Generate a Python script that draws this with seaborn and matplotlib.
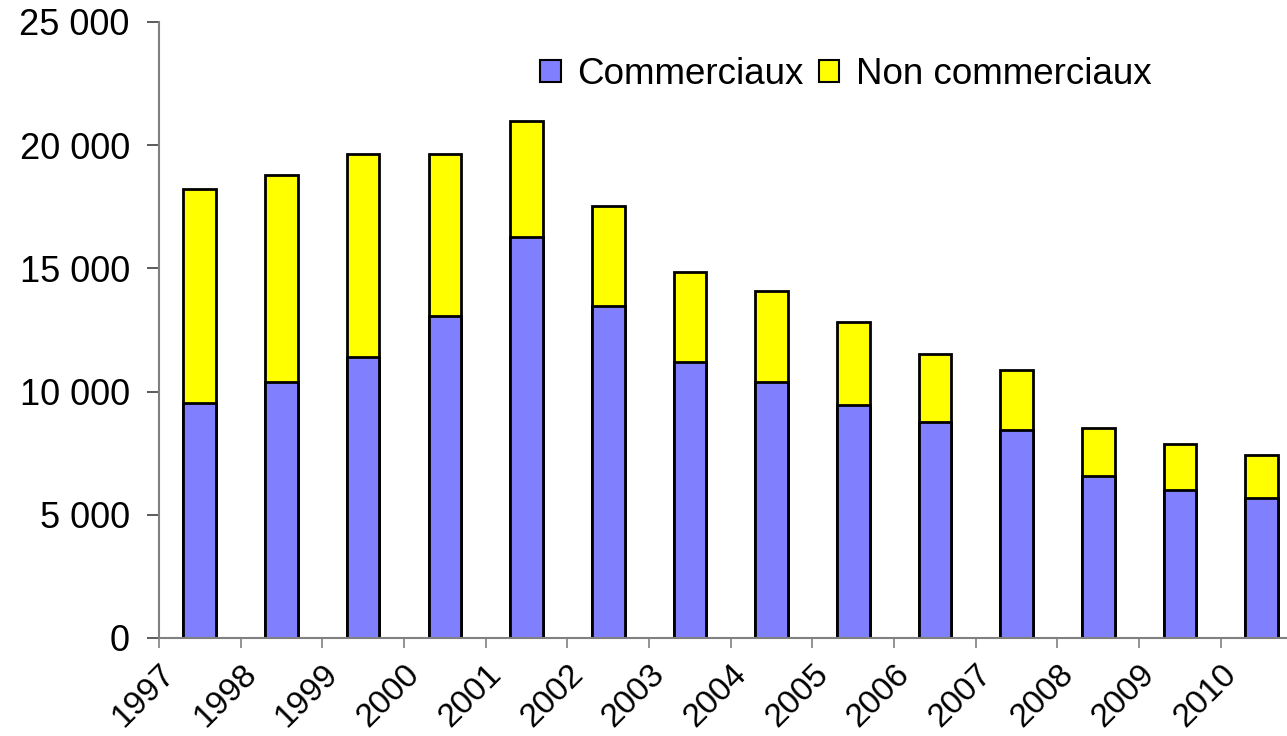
import pandas as pd
import numpy as np
import matplotlib
matplotlib.use("Agg")
import matplotlib.pyplot as plt
from matplotlib.ticker import FuncFormatter
from matplotlib.patches import Patch
import seaborn as sns

years = ["1997", "1998", "1999", "2000", "2001", "2002", "2003",
         "2004", "2005", "2006", "2007", "2008", "2009", "2010"]
commerciaux = [9550, 10400, 11400, 13070, 16270, 13470, 11200,
               10400, 9460, 8770, 8440, 6570, 6010, 5680]
non_commerciaux = [8670, 8390, 8240, 6570, 4710, 4060, 3650,
                   3680, 3360, 2760, 2440, 1950, 1860, 1750]

df = pd.DataFrame({"annee": years, "commerciaux": commerciaux,
                   "non_commerciaux": non_commerciaux})
df["total"] = df["commerciaux"] + df["non_commerciaux"]

sns.set_style("white")
plt.rcParams["font.family"] = ["Liberation Sans", "DejaVu Sans"]
plt.rcParams["text.color"] = "black"

fig = plt.figure(figsize=(12.87, 7.36), dpi=100)
ax = fig.add_axes([0.1235, 0.1332, 0.8765, 0.8370])

# total first (yellow), then commercial share on top of it
sns.barplot(data=df, x="annee", y="total", order=years, color="#FFFF00",
            width=0.4, edgecolor="black", linewidth=2, saturation=1, ax=ax)
sns.barplot(data=df, x="annee", y="commerciaux", order=years, color="#8080FF",
            width=0.4, edgecolor="black", linewidth=2, saturation=1, ax=ax)

ax.set_ylim(0, 25000)
ax.set_xlim(-0.5, 13.31)
ax.set_yticks(np.arange(0, 25001, 5000))
ax.yaxis.set_major_formatter(FuncFormatter(lambda v, p: f"{int(v):,}".replace(",", " ")))
ax.set_xticks(np.arange(len(years)) - 0.5)
ax.set_xticklabels(years, rotation=45, ha="right", va="top", rotation_mode="anchor")
ax.set_xlabel("")
ax.set_ylabel("")

for s in ["top", "right"]:
    ax.spines[s].set_visible(False)
for s in ["left", "bottom"]:
    ax.spines[s].set_color("#808080")
    ax.spines[s].set_linewidth(1.5)
ax.tick_params(axis="y", direction="out", length=9, width=1.2, color="#404040",
               labelsize=26, labelcolor="black", pad=12, left=True)
ax.tick_params(axis="x", direction="out", length=7, width=1.2, color="#808080",
               labelsize=24, labelcolor="black", pad=8, bottom=True)

handles = [Patch(facecolor="#8080FF", edgecolor="black", linewidth=1.5),
           Patch(facecolor="#FFFF00", edgecolor="black", linewidth=1.5)]
ax.legend(handles, ["Commerciaux", "Non commerciaux"], ncol=2, frameon=False,
          fontsize=26.5, loc="center", bbox_to_anchor=(0.609, 0.914),
          handlelength=0.55, handleheight=0.55, handletextpad=0.45, columnspacing=0.42)

fig.savefig("out.png", dpi=100)
